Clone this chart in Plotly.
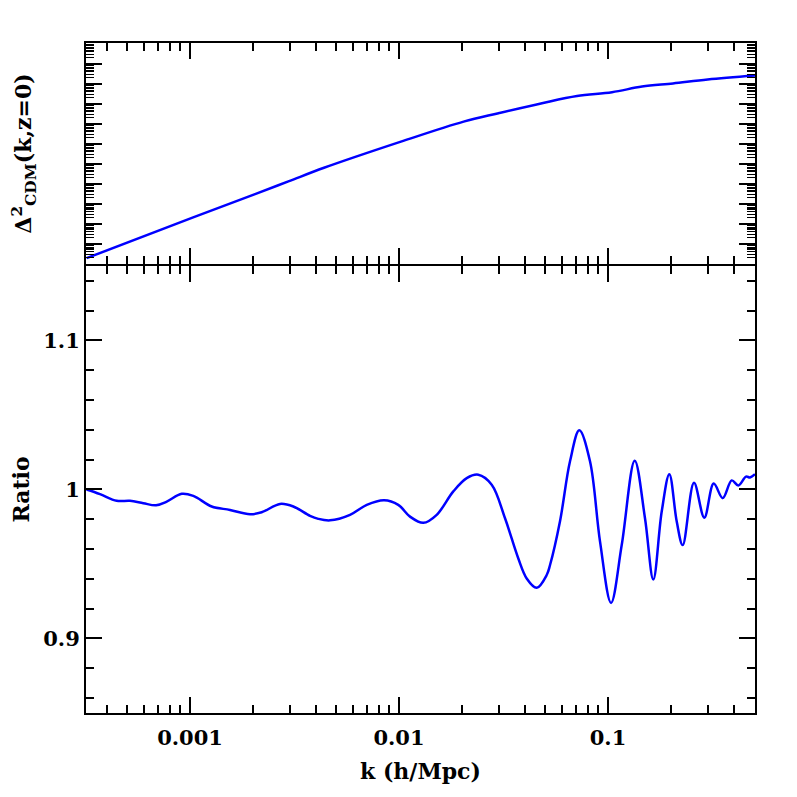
import plotly.graph_objects as go

# top panel: dimensionless CDM power spectrum at z=0
k_power = [3.2e-4, 1.028e-3, 2.033e-3, 2.977e-3, 4.377e-3, 1.030e-2, 2.038e-2,
           2.993e-2, 4.833e-2, 7.108e-2, 0.1045, 0.1455, 0.2046, 0.2999, 0.505]
delta2_cdm = [1.95e-9, 2.09e-7, 3.02e-6, 1.38e-5, 6.46e-5, 1.35e-3, 1.32e-2,
              3.47e-2, 0.110, 0.251, 0.389, 0.741, 1.07, 1.70, 2.68]

# bottom panel: ratio
k_ratio = [3.2e-4, 3.71e-4, 4.46e-4, 5.16e-4, 5.98e-4, 6.88e-4, 7.74e-4, 9.13e-4,
           1.037e-3, 1.27e-3, 1.554e-3, 1.937e-3, 2.203e-3, 2.696e-3, 3.121e-3,
           3.752e-3, 4.11e-3, 4.677e-3, 5.83e-3, 7.01e-3, 8.48e-3, 9.92e-3,
           1.129e-2, 1.307e-2, 1.515e-2, 1.819e-2, 2.109e-2, 2.395e-2, 2.777e-2,
           3.216e-2, 3.723e-2, 4.083e-2, 4.56e-2, 5.09e-2, 5.28e-2, 5.89e-2,
           6.58e-2, 7.29e-2, 8.20e-2, 9.16e-2, 0.1034, 0.1163, 0.1342, 0.1503,
           0.1647, 0.1807, 0.1965, 0.2132, 0.2277, 0.2579, 0.2889, 0.3204,
           0.3539, 0.3908, 0.4202, 0.4574, 0.4779, 0.505]
ratio = [1.000, 0.9969, 0.9924, 0.9924, 0.9908, 0.9894, 0.9919, 0.9971,
         0.9957, 0.9886, 0.9863, 0.9834, 0.9847, 0.9903, 0.9886,
         0.9823, 0.9803, 0.9793, 0.9830, 0.9897, 0.9928, 0.9897,
         0.9818, 0.9776, 0.9830, 0.9987, 1.0076, 1.0099, 1.0032,
         0.9807, 0.9537, 0.9403, 0.9340, 0.9426, 0.9493, 0.9785,
         1.0189, 1.0397, 1.0189, 0.9650, 0.9239, 0.9627, 1.0193, 0.9807,
         0.9396, 0.9852, 1.0103, 0.9785, 0.9627, 1.0045, 0.9811, 1.0040,
         0.9942, 1.0061, 1.0027, 1.0086, 1.0081, 1.0103]

x_tickvals = [0.001, 0.01, 0.1]
x_ticktext = ["0.001", "0.01", "0.1"]

FONT = "DejaVu Serif"

fig = go.Figure()
fig.add_trace(go.Scatter(x=k_power, y=delta2_cdm, xaxis="x2", yaxis="y2", mode="lines",
                         line=dict(color="#0000ff", width=2.5, shape="spline"), showlegend=False))
fig.add_trace(go.Scatter(x=k_ratio, y=ratio, xaxis="x", yaxis="y", mode="lines",
                         line=dict(color="#0000ff", width=2.5, shape="spline"), showlegend=False))

axis_common = dict(showline=True, linecolor="black", linewidth=2, mirror="allticks",
                   ticks="inside", tickcolor="black", tickwidth=1.5, ticklen=16,
                   showgrid=False, zeroline=False, automargin=False)
x_minor = dict(ticks="inside", ticklen=8, tickcolor="black", tickwidth=1.5, dtick="D1", showgrid=False)

fig.update_layout(
    xaxis=dict(type="log", range=[-3.4976, -0.2967], tickvals=x_tickvals, ticktext=x_ticktext,
               minor=x_minor, ticklabelstandoff=5, anchor="y",
               title=dict(text="<b>k (h/Mpc)</b>", standoff=14, font=dict(size=22)), **axis_common),
    xaxis2=dict(type="log", range=[-3.4976, -0.2967], tickvals=x_tickvals, showticklabels=False,
                minor=x_minor, anchor="y2", matches="x", **axis_common),
    # lower panel, 1px short of the boundary so both frame lines land on one row of pixels
    yaxis=dict(domain=[0, 0.6672], range=[0.85, 1.15], tickvals=[0.9, 1.0, 1.1], ticktext=["0.9", "1", "1.1"],
               minor=dict(ticks="inside", ticklen=8, tickcolor="black", tickwidth=1.5, dtick=0.02, showgrid=False),
               title=dict(text="<b>Ratio</b>", standoff=17, font=dict(size=22)), anchor="x", **axis_common),
    yaxis2=dict(domain=[0.6702, 1], type="log", range=[-9.0, 2.05], dtick=1, showticklabels=False,
                minor=dict(ticks="inside", ticklen=8, tickcolor="black", tickwidth=1, dtick="D1", showgrid=False),
                title=dict(text="<b>Δ<sup>2</sup><sub>CDM</sub>(k,z=0)</b>", standoff=58, font=dict(size=22)),
                anchor="x2", **axis_common),
    width=789, height=789, margin=dict(l=78, r=42, t=35, b=84),
    plot_bgcolor="white", paper_bgcolor="white",
    font=dict(family=FONT, size=21, color="black", weight="bold"),
)
fig.write_html("out.html")
